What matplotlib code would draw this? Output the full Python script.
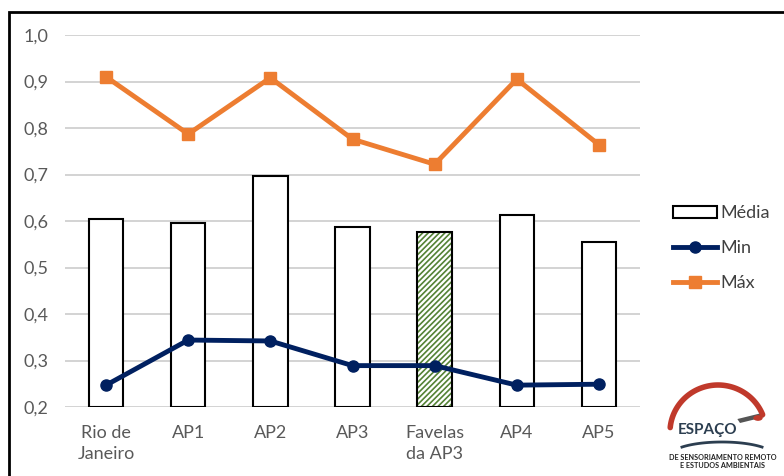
import matplotlib.pyplot as plt
import matplotlib.patches as mpatches
import numpy as np

plt.rcParams["font.family"] = ["Lato", "DejaVu Sans"]
plt.rcParams["hatch.linewidth"] = 1.2

# dados
categorias = ["Rio de\nJaneiro", "AP1", "AP2", "AP3", "Favelas\nda AP3", "AP4", "AP5"]
media = [0.604, 0.596, 0.697, 0.587, 0.576, 0.613, 0.555]
minimo = [0.247, 0.344, 0.342, 0.289, 0.289, 0.247, 0.249]
maximo = [0.910, 0.787, 0.908, 0.776, 0.722, 0.905, 0.764]
destaque = "Favelas\nda AP3"

azul = "#002060"
laranja = "#ED7D31"
verde = "#548235"
cinza = "#595959"

fig = plt.figure(figsize=(7.84, 4.76), dpi=100)
ax = fig.add_axes([65 / 784, 1 - 407 / 476, 575 / 784, 372 / 476])

x = np.arange(len(categorias))
for i, (c, v) in enumerate(zip(categorias, media)):
    if c == destaque:
        ax.bar(i, v - 0.2, bottom=0.2, width=0.42, facecolor="white",
               edgecolor=verde, hatch="//////", linewidth=0, zorder=2)
        ax.bar(i, v - 0.2, bottom=0.2, width=0.42, facecolor="none",
               edgecolor="black", linewidth=1.5, zorder=3)
    else:
        ax.bar(i, v - 0.2, bottom=0.2, width=0.42, facecolor="white",
               edgecolor="black", linewidth=1.5, zorder=3)

ax.plot(x, minimo, color=azul, lw=3.5, marker="o", ms=8, zorder=4)
ax.plot(x, maximo, color=laranja, lw=3.5, marker="s", ms=9, zorder=4)

ax.set_xlim(-0.5, len(categorias) - 0.5)
ax.set_ylim(0.2, 1.0)
ax.set_yticks(np.arange(0.2, 1.01, 0.1))
ax.set_yticklabels([f"{t:.1f}".replace(".", ",") for t in np.arange(0.2, 1.01, 0.1)])
ax.set_xticks(x)
ax.set_xticklabels(categorias, linespacing=1.4)
ax.tick_params(length=0, colors=cinza, labelsize=13, pad=13)
ax.tick_params(axis="y", pad=12)
ax.grid(axis="y", color="#D0D0D0", lw=1.3, zorder=0)
for s in ax.spines.values():
    s.set_visible(False)

# legenda
leg_h = [
    mpatches.Patch(facecolor="white", edgecolor="black", lw=1.5),
    plt.Line2D([], [], color=azul, lw=3.5, marker="o", ms=8),
    plt.Line2D([], [], color=laranja, lw=3.5, marker="s", ms=8),
]
fig.legend(leg_h, ["Média", "Min", "Máx"], loc="upper left",
           bbox_to_anchor=(657 / 784, 1 - 189 / 476), frameon=False,
           fontsize=13, labelcolor="#404040", handlelength=2.4,
           handletextpad=0.2, labelspacing=1.05)

# moldura
fig.add_artist(mpatches.Rectangle((9 / 784, -0.05), 1.2, 1 - 12 / 476 + 0.05,
                                  transform=fig.transFigure, fill=False,
                                  edgecolor="black", lw=2))

# logotipo (coordenadas em pixels da figura)
def px(xp, yp):
    return xp / 784, 1 - yp / 476

t = np.linspace(np.pi * 0.12, np.pi * 0.97, 80)
ax_x = (718 + 48 * np.cos(t)) / 784
ax_y = 1 - (432 - 47 * np.sin(t)) / 476
fig.add_artist(plt.Line2D(ax_x, ax_y, transform=fig.transFigure,
                          color="#C0392B", lw=4, solid_capstyle="round"))
t2 = np.linspace(np.pi * 0.22, np.pi * 0.78, 60)
fig.add_artist(plt.Line2D((722 + 52 * np.cos(t2)) / 784,
                          1 - (456 - 14 * np.sin(t2)) / 476,
                          transform=fig.transFigure, color="#2C3E50", lw=2))
fig.text(*px(708, 430), "ESPAÇO", fontsize=11, weight="bold",
         color="#2C3E50", ha="center", va="center")
# satélite
fig.add_artist(mpatches.Rectangle(px(740, 423), 0.033, 0.009,
                                  transform=fig.transFigure, angle=22,
                                  facecolor="#555555", edgecolor="none"))
fig.add_artist(mpatches.Circle(px(758, 418), 0.006, transform=fig.transFigure,
                               facecolor="#C0392B", edgecolor="none"))
fig.text(*px(723, 457), "DE SENSORIAMENTO REMOTO", fontsize=5.2,
         weight="bold", color="#222222", ha="center", va="center")
fig.text(*px(723, 466), "E ESTUDOS AMBIENTAIS", fontsize=5.2,
         weight="bold", color="#222222", ha="center", va="center")

fig.savefig("out.png", dpi=100)
